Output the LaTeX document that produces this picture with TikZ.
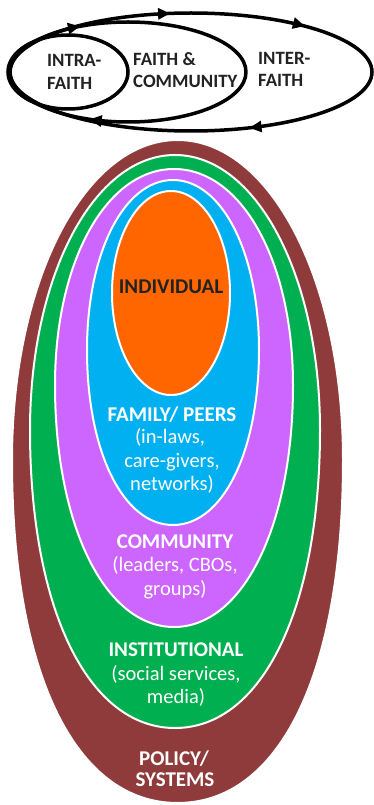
\documentclass[tikz,border=0pt]{standalone}
\usepackage{fontspec}
\setmainfont{Carlito}
\usetikzlibrary{arrows.meta,decorations.markings}
\definecolor{brownc}{HTML}{8F3B3B}
\definecolor{greenc}{HTML}{00B050}
\definecolor{purplec}{HTML}{CC66FF}
\definecolor{bluec}{HTML}{00B0F0}
\definecolor{orangec}{HTML}{FF6600}
\definecolor{darktext}{HTML}{222222}
\newcommand\eggshape[8]{%
  \filldraw[#8] (#1,#2)
   .. controls ({#1+#6*#5},#2) and ({#1+#5},{#3-#6*(#3-#2)}) .. ({#1+#5},#3)
   .. controls ({#1+#5},{#3+#7*(#4-#3)}) and ({#1+#7*#5},#4) .. (#1,#4)
   .. controls ({#1-#7*#5},#4) and ({#1-#5},{#3+#7*(#4-#3)}) .. ({#1-#5},#3)
   .. controls ({#1-#5},{#3-#6*(#3-#2)}) and ({#1-#6*#5},#2) .. (#1,#2) -- cycle;}
\tikzset{
  ring/.style={draw=black, line width=3.5pt},
  layer/.style={draw=white, line width=2pt},
  tiphead/.tip={Triangle[length=12pt,width=11pt]},
  toptext/.style={anchor=base west, inner sep=0pt, text=darktext, font=\fontsize{18.8}{22}\selectfont\bfseries},
  headw/.style={anchor=base, inner sep=0pt, text=white, font=\fontsize{21}{23}\selectfont\bfseries},
  subw/.style={anchor=base, inner sep=0pt, text=white, font=\fontsize{20.5}{23}\selectfont},
}
\begin{document}
\begin{tikzpicture}[x=1pt,y=-1pt]
\useasboundingbox (0,0) rectangle (374,805);
% ---- top: faith circles
\draw[ring] (68,72) ellipse[x radius=60, y radius=37];
\draw[ring, postaction={decorate}, decoration={markings,
    mark=at position 0.32 with {\arrow{tiphead}},
    mark=at position 0.662 with {\arrow{tiphead}}}]
  (246,72) arc[start angle=0, end angle=360, x radius=118, y radius=50];
\draw[ring, postaction={decorate}, decoration={markings,
    mark=at position 0.177 with {\arrow{tiphead}},
    mark=at position 0.724 with {\arrow{tiphead}},
    mark=at position 0.893 with {\arrow{tiphead}}}]
  (372,72) arc[start angle=0, end angle=360, x radius=181, y radius=59];
\node[toptext] (intraA) at (47,66.7) {INTRA-};
\node[toptext] (intraB) at (47,90) {FAITH};
\node[toptext] (faithA) at (133,65.7) {FAITH \&};
\node[toptext] (faithB) at (133,87.5) {COMMUNITY};
\node[toptext] (interA) at (258,65) {INTER-};
\node[toptext] (interB) at (258,86.7) {FAITH};
% ---- nested layers
\eggshape{177.5}{140}{460}{803}{165.5}{0.56}{0.62}{fill=brownc, layer}
\eggshape{175}{155}{430}{728}{145}{0.56}{0.6}{fill=greenc, layer}
\eggshape{174}{169}{385}{627}{119}{0.57}{0.58}{fill=purplec, layer}
\eggshape{173}{180}{350}{525}{86}{0.57}{0.58}{fill=bluec, layer}
\eggshape{171}{191}{293}{395}{59}{0.5523}{0.5523}{fill=orangec, layer}
% ---- texts
\node[headw, text=darktext] (indiv) at (171,293.3) {INDIVIDUAL};
\node[headw] (fam) at (172,421.7) {FAMILY/ PEERS};
\node[subw] (famA) at (170,443.3) {(in-laws,};
\node[subw] (famB) at (172,467.3) {care-givers,};
\node[subw] (famC) at (172,490) {networks)};
\node[headw] (comm) at (175,548.3) {COMMUNITY};
\node[subw] (commA) at (175,571.7) {(leaders, CBOs,};
\node[subw] (commB) at (175,595) {groups)};
\node[headw] (inst) at (176,656.7) {INSTITUTIONAL};
\node[subw] (instA) at (176,680) {(social services,};
\node[subw] (instB) at (176,703.3) {media)};
\node[headw] (polA) at (174,765) {POLICY/};
\node[headw] (polB) at (175,786.7) {SYSTEMS};
\end{tikzpicture}
\end{document}
